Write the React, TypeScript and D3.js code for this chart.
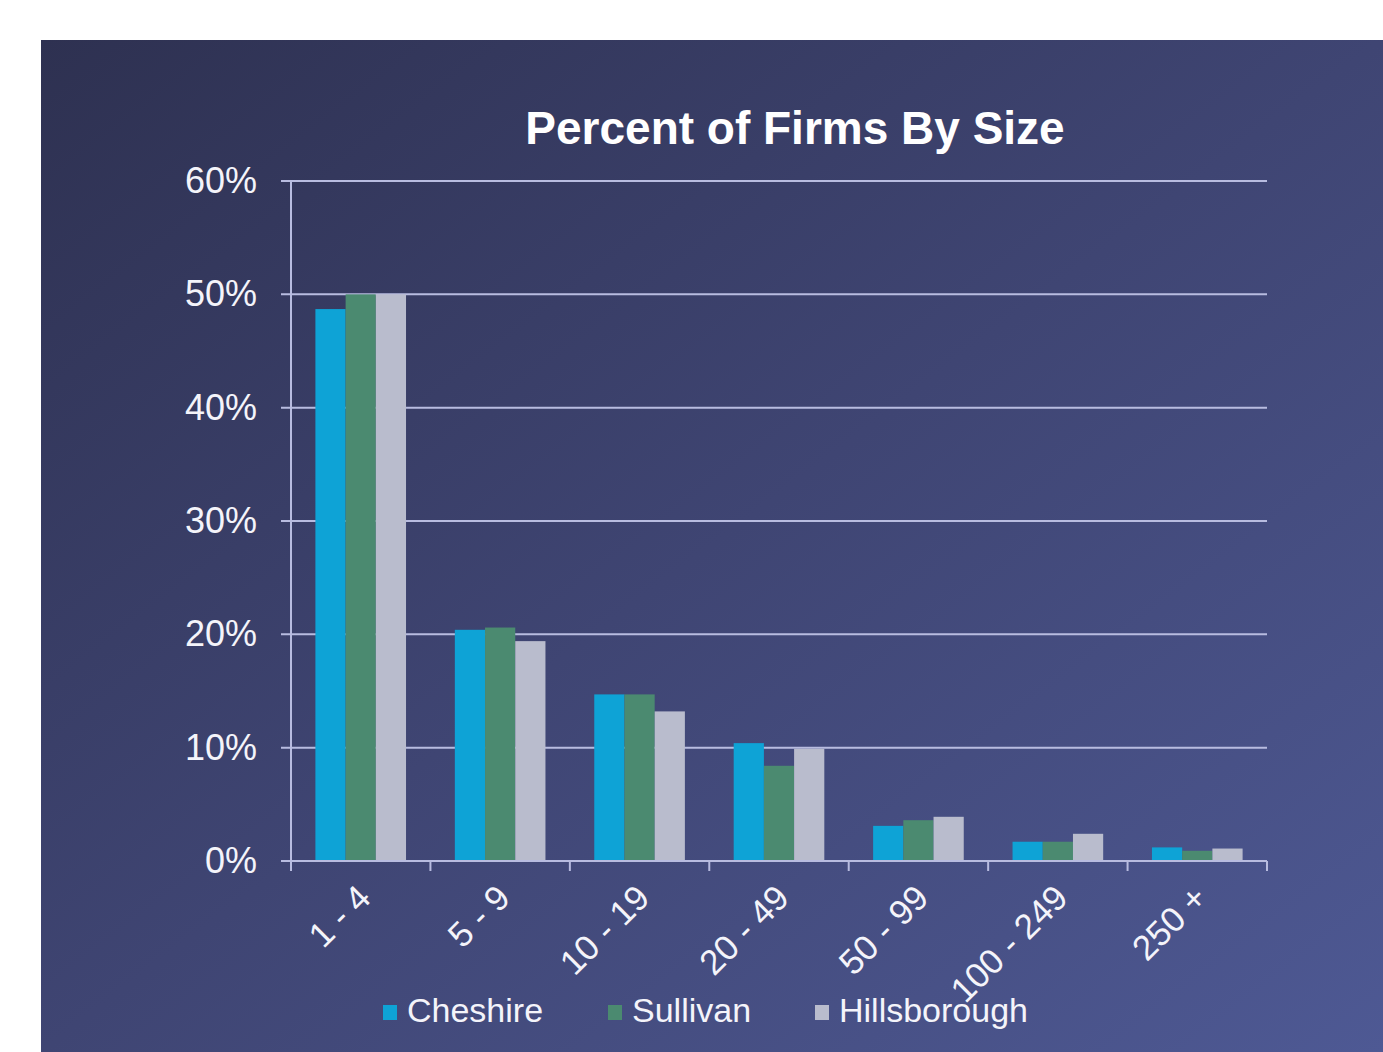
import React from "react";
import * as d3 from "d3";

const categories = ["1 - 4", "5 - 9", "10 - 19", "20 - 49", "50 - 99", "100 - 249", "250 +"];
const seriesNames = ["Cheshire", "Sullivan", "Hillsborough"];
const cheshire = [48.7, 20.4, 14.7, 10.4, 3.1, 1.7, 1.2];
const sullivan = [50.0, 20.6, 14.7, 8.4, 3.6, 1.7, 0.9];
const hillsborough = [50.0, 19.4, 13.2, 9.9, 3.9, 2.4, 1.1];
const yTicks = [0, 10, 20, 30, 40, 50, 60];
const colors = ["#0ea3d6", "#4b8a70", "#b9bccd"];

const W = 1383;
const H = 1052;
const left = 291;
const right = 1267;
const top = 181;
const bottom = 861;
const FONT = "'Liberation Sans', Arial, sans-serif";

export default function App() {
  const series = [cheshire, sullivan, hillsborough];
  const x = d3.scaleBand<string>().domain(categories).range([left, right]).padding(0);
  const bw = x.bandwidth();
  const groupW = bw * 0.65;
  const xs = d3
    .scaleBand<string>()
    .domain(seriesNames)
    .range([(bw - groupW) / 2, (bw + groupW) / 2])
    .padding(0);
  const y = d3.scaleLinear().domain([0, 60]).range([bottom, top]);
  const gridColor = "#b8bce0";

  return (
    <svg
      width={W}
      height={H}
      style={{ position: "absolute", left: 0, top: 0, background: "#ffffff" }}
      fontFamily={FONT}
    >
      <defs>
        <linearGradient id="bg" x1="0" y1="0" x2="1" y2="1">
          <stop offset="0" stopColor="#2e3151" />
          <stop offset="0.5" stopColor="#3f4573" />
          <stop offset="1" stopColor="#4e5994" />
        </linearGradient>
      </defs>
      <rect x={41} y={40} width={W - 41} height={H - 40} fill="url(#bg)" />
      <text x={795} y={144} textAnchor="middle" fill="#ffffff" fontSize={46} fontWeight="bold">
        Percent of Firms By Size
      </text>
      {yTicks.map((t) => (
        <g key={t}>
          <line x1={left - 10} x2={right} y1={y(t)} y2={y(t)} stroke={gridColor} strokeWidth={2} />
          <text x={257} y={y(t) + 12} textAnchor="end" fill="#f4f4fa" fontSize={36}>
            {t}%
          </text>
        </g>
      ))}
      {categories.map((c, i) => (
        <g key={c} transform={`translate(${x(c)},0)`}>
          {series.map((s, j) => (
            <rect
              key={j}
              x={xs(seriesNames[j])}
              y={y(s[i])}
              width={xs.bandwidth()}
              height={y(0) - y(s[i])}
              fill={colors[j]}
            />
          ))}
        </g>
      ))}
      <line x1={left} x2={left} y1={top} y2={bottom + 10} stroke={gridColor} strokeWidth={2} />
      <line x1={left} x2={right} y1={bottom} y2={bottom} stroke={gridColor} strokeWidth={2} />
      {categories.map((c) => (
        <line
          key={"t" + c}
          x1={(x(c) as number) + bw}
          x2={(x(c) as number) + bw}
          y1={bottom}
          y2={bottom + 10}
          stroke={gridColor}
          strokeWidth={2}
        />
      ))}
      {categories.map((c) => {
        const cx = (x(c) as number) + bw / 2 + 12;
        return (
          <text
            key={"l" + c}
            transform={`translate(${cx},${900}) rotate(-45)`}
            textAnchor="end"
            fill="#f4f4fa"
            fontSize={35}
          >
            {c}
          </text>
        );
      })}
      {seriesNames.map((n, j) => {
        const lx = [383, 608, 815][j];
        return (
          <g key={n}>
            <rect x={lx} y={1005} width={14} height={15} fill={colors[j]} />
            <text x={lx + 24} y={1022} fill="#f4f4fa" fontSize={34}>
              {n}
            </text>
          </g>
        );
      })}
    </svg>
  );
}
